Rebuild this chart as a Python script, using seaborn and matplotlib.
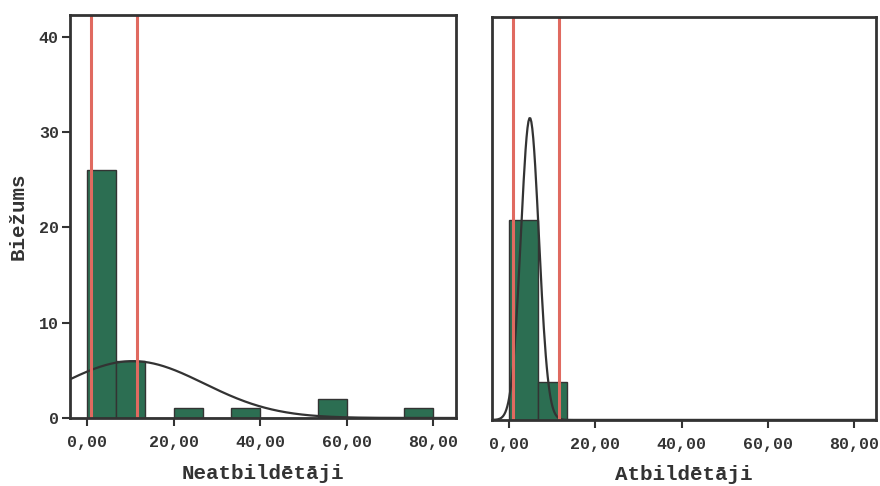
import matplotlib
matplotlib.use("Agg")
import matplotlib.pyplot as plt
import seaborn as sns
import numpy as np

# histogram bins (12 bins of width 80/12)
bin_edges = [0, 6.67, 13.33, 20, 26.67, 33.33, 40, 46.67, 53.33, 60, 66.67, 73.33, 80]
neat_counts = [26, 6, 0, 1, 0, 1, 0, 0, 2, 0, 0, 1]
atb_counts = [21, 4, 0, 0, 0, 0, 0, 0, 0, 0, 0, 0]

# fitted normal curves (mean, std)
neat_mean, neat_sd = 10.5, 16.5
atb_mean, atb_sd = 4.8, 2.1

# red reference lines
ref_lines = [0.8, 11.6]

x_ticks = [0, 20, 40, 60, 80]
x_tick_labels = ["0,00", "20,00", "40,00", "60,00", "80,00"]
y_ticks = [0, 10, 20, 30, 40]
y_tick_labels = ["0", "10", "20", "30", "40"]

GREEN = "#2c6e52"
RED = "#e06a60"
DARK = "#333333"
MONO = ["Liberation Mono", "DejaVu Sans Mono"]

sns.set_style("white")
plt.rcParams["font.family"] = MONO
plt.rcParams["font.weight"] = "bold"

fig = plt.figure(figsize=(8.8, 4.86), dpi=100)
ax1 = fig.add_axes([0.0795, 0.140, 0.4385, 0.829])
ax2 = fig.add_axes([0.559, 0.136, 0.437, 0.830])


def draw_panel(ax, counts, mean, sd, xlabel):
    centers = [(a + b) / 2 for a, b in zip(bin_edges[:-1], bin_edges[1:])]
    sns.histplot(x=centers, weights=counts, bins=bin_edges, ax=ax,
                 color=GREEN, alpha=1, edgecolor=DARK, linewidth=1.0)
    xs = np.linspace(-4, 85, 400)
    width = bin_edges[1] - bin_edges[0]
    ys = sum(counts) * width * np.exp(-0.5 * ((xs - mean) / sd) ** 2) / (sd * np.sqrt(2 * np.pi))
    sns.lineplot(x=xs, y=ys, ax=ax, color=DARK, linewidth=1.6)
    for r in ref_lines:
        ax.axvline(r, color=RED, linewidth=2.2)
    ax.set_xlim(-4, 85.2)
    ax.set_ylim(0, 42.3)
    ax.set_xticks(x_ticks)
    ax.set_xticklabels(x_tick_labels, fontsize=12, fontweight="bold", color=DARK)
    ax.set_xlabel(xlabel, fontsize=15, fontweight="bold", color=DARK, labelpad=10)
    ax.set_ylabel("")
    for s in ax.spines.values():
        s.set_visible(True)
        s.set_color(DARK)
        s.set_linewidth(2)
    ax.tick_params(axis="x", bottom=True, direction="out", length=6, width=1.5,
                   color=DARK, pad=6)


draw_panel(ax1, neat_counts, neat_mean, neat_sd, "Neatbildētāji")
draw_panel(ax2, atb_counts, atb_mean, atb_sd, "Atbildētāji")

ax1.set_yticks(y_ticks)
ax1.set_yticklabels(y_tick_labels, fontsize=12, fontweight="bold", color=DARK)
ax1.tick_params(axis="y", left=True, direction="out", length=6, width=1.5,
                color=DARK, pad=2)
ax1.set_ylabel("Biežums", fontsize=15, fontweight="bold", color=DARK)
ax1.yaxis.set_label_coords(-0.11, 0.5)

ax2.set_yticks([])
ax2.tick_params(axis="y", left=False, labelleft=False)

fig.savefig("out.png", dpi=100)
